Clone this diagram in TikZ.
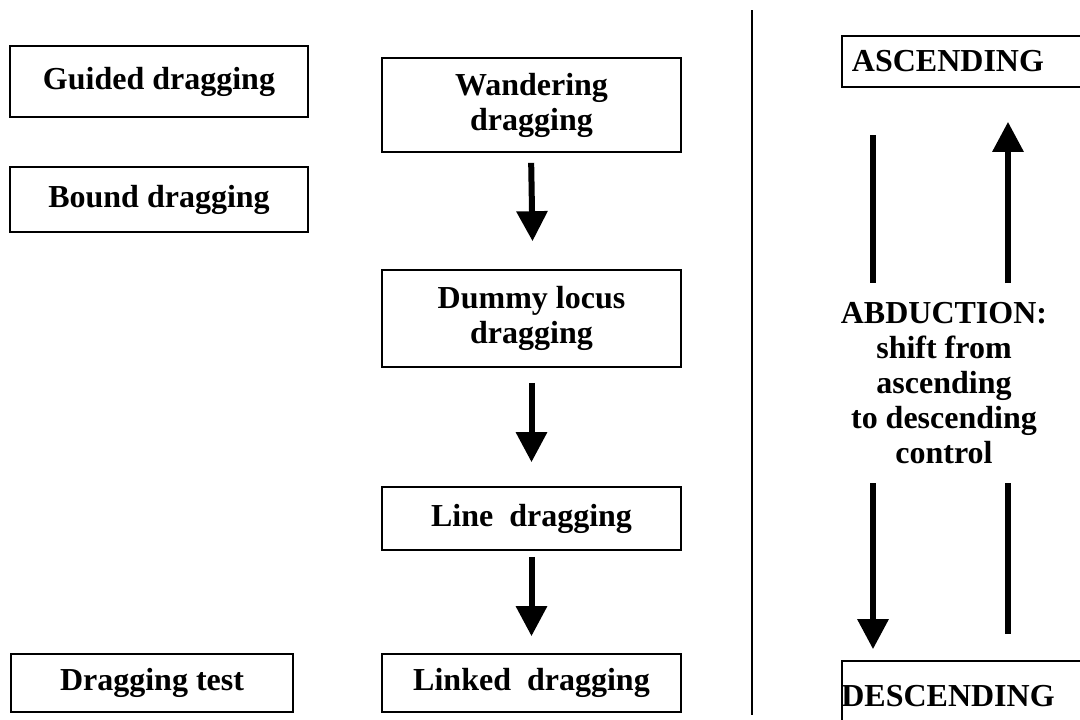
\documentclass[tikz,border=0pt]{standalone}
\usepackage{fontspec}
\setmainfont{Liberation Serif}
\usetikzlibrary{arrows.meta,positioning,calc}
\tikzset{
  box/.style={draw, line width=1.6pt, inner sep=0pt, align=center},
  lab/.style={font=\fontsize{32}{35}\selectfont\bfseries, align=center},
  arr/.style={line width=6pt, -{Triangle[length=30pt,width=30pt]}},
  bar/.style={line width=6pt},
  sep/.style={line width=1.6pt}
}

\begin{document}
\begin{tikzpicture}[x=1pt,y=-1pt]
  \useasboundingbox (0,0) rectangle (1080,720);
  \clip (0,0) rectangle (1080,720);

  % left column
  \node[box,lab,minimum width=298pt,minimum height=71pt] (guided) at (159,81.5) {Guided dragging};
  \node[box,lab,minimum width=298pt,minimum height=65pt] (bound) at (159,199.5) {Bound dragging};
  \node[box,lab,minimum width=282pt,minimum height=58pt] (test) at (152,683) {Dragging test};

  % middle column
  \node[box,lab,minimum width=299pt,minimum height=94pt] (wander) at (531.5,105) {Wandering\\dragging};
  \node[box,lab,minimum width=299pt,minimum height=97pt] (dummy) at (531.5,318.5) {Dummy locus\\dragging};
  \node[box,lab,minimum width=299pt,minimum height=63pt] (line) at (531.5,518.5) {Line\ \ dragging};
  \node[box,lab,minimum width=299pt,minimum height=58pt] (linked) at (531.5,683) {Linked\ \ dragging};

  \draw[arr,shorten <=10pt,shorten >=28pt] ([xshift=-0.5pt]wander.south) -- ([xshift=1.5pt]dummy.north);
  \draw[arr,shorten <=15pt,shorten >=24pt] (dummy) -- (line);
  \draw[arr,shorten <=6pt,shorten >=17pt] (line) -- (linked);

  % separator
  \coordinate (sepT) at (752,10);
  \coordinate (sepB) at (752,715);
  \draw[sep] (sepT) -- (sepB);

  % right column
  \node[box,minimum width=248pt,minimum height=51pt] (asc) at (966,61.5) {};
  \node[lab] (ascT) at (948,61.5) {ASCENDING};
  \node[box,minimum width=248pt,minimum height=79pt] (desc) at (966,700.5) {};
  \node[lab] (descT) at (948,696) {DESCENDING};
  \node[lab] (abd) at (944,383) {ABDUCTION:\\shift from\\ascending\\to descending\\control};

  \coordinate (upL) at (873,135);
  \coordinate (midL) at (873,283);
  \coordinate (lowL) at (873,483);
  \coordinate (upR) at (1008,283);
  \coordinate (lowR) at (1008,483);
  \coordinate (endR) at (1008,634);

  \draw[bar] (upL) -- (midL);
  \draw[arr,shorten >=11pt] (lowL) -- (lowL |- desc.north);
  \draw[arr,shorten >=34pt] (upR) -- (upR |- asc.south);
  \draw[bar] (lowR) -- (endR);
\end{tikzpicture}
\end{document}
